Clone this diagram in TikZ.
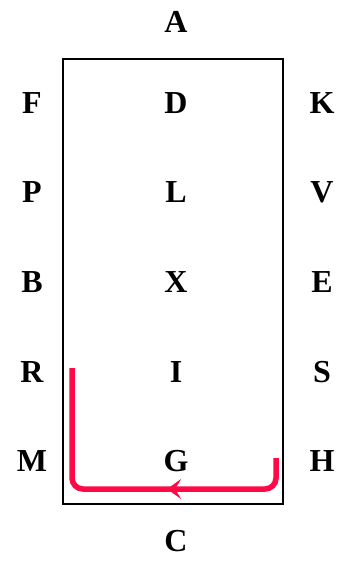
\documentclass[tikz,border=0pt]{standalone}
\usepackage{fontspec}
\setmainfont{Liberation Serif}
\usetikzlibrary{arrows.meta, decorations.markings}
\definecolor{routered}{HTML}{FF0A46}

\begin{document}
\begin{tikzpicture}[x=1pt, y=-1pt,
  letter/.style={font=\fontsize{32}{36}\selectfont\bfseries, text=black, inner sep=0pt},
  route/.style={routered, line width=5.5pt, rounded corners=11pt,
                postaction={decorate, decoration={markings,
                  mark=at position 0.39 with {\arrow[routered]{Stealth[length=14pt, width=20pt, inset=6pt]}}}}}
]

% Page
\useasboundingbox (0,0) rectangle (342,562);

% Frame
\draw[line width=2pt] (63,59) rectangle (283,504);

% Top and bottom letters
\node[letter] (top) at (176,22) {A};
\node[letter] (bottom) at (176,541) {C};

% Rows of letters
\foreach \l/\m/\r [count=\i] in {F/D/K, P/L/V, B/X/E, R/I/S, M/G/H} {
  \node[letter] (left-\i) at (32,13+89.7*\i) {\l};
  \node[letter] (mid-\i) at (176,13+89.7*\i) {\m};
  \node[letter] (right-\i) at (322,13+89.7*\i) {\r};
}

% Red route
\coordinate (route-start) at (276,458);
\coordinate (route-right) at (276,489);
\coordinate (route-left) at (72,489);
\coordinate (route-end) at (72,368);
\draw[route] (route-start) -- (route-right) -- (route-left) -- (route-end);

\end{tikzpicture}
\end{document}
